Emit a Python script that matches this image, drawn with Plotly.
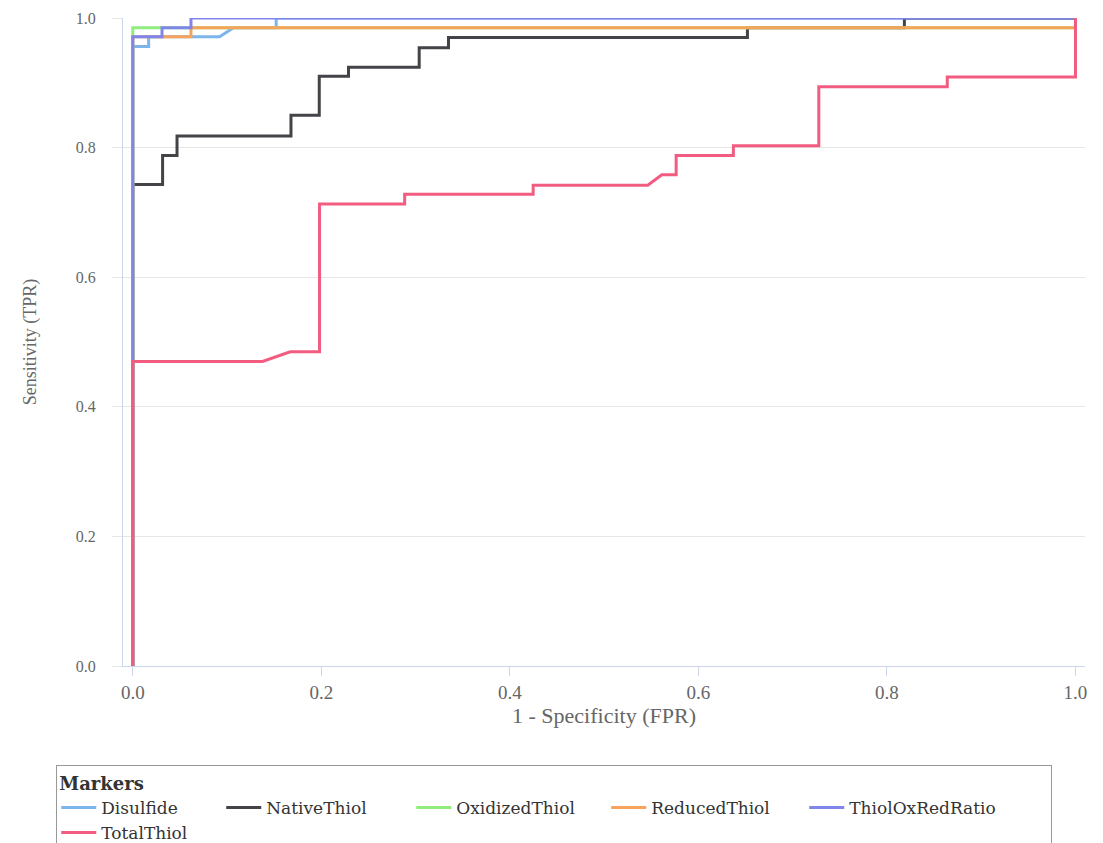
import plotly.graph_objects as go

# ---- data ----
series_names = ["Disulfide", "NativeThiol", "OxidizedThiol", "ReducedThiol", "ThiolOxRedRatio", "TotalThiol"]

disulfide_fpr = [0.0, 0.0, 0.0168, 0.0168, 0.0920, 0.1068, 0.1521, 0.1521, 1.0]
disulfide_tpr = [0.0, 0.956, 0.956, 0.971, 0.971, 0.985, 0.985, 1.0, 1.0]

native_fpr = [0.0, 0.0, 0.0316, 0.0316, 0.0469, 0.0469, 0.1678, 0.1678, 0.1978, 0.1978,
              0.2288, 0.2288, 0.3038, 0.3038, 0.3349, 0.3349, 0.6520, 0.6520, 0.8185, 0.8185, 1.0]
native_tpr = [0.0, 0.743, 0.743, 0.788, 0.788, 0.818, 0.818, 0.850, 0.850, 0.910,
              0.910, 0.924, 0.924, 0.954, 0.954, 0.970, 0.970, 0.985, 0.985, 1.0, 1.0]

oxidized_fpr = [0.0, 0.0, 1.0, 1.0]
oxidized_tpr = [0.0, 0.985, 0.985, 1.0]

reduced_fpr = [0.0, 0.0, 0.0617, 0.0617, 1.0, 1.0]
reduced_tpr = [0.0, 0.971, 0.971, 0.985, 0.985, 1.0]

ratio_fpr = [0.0, 0.0, 0.0310, 0.0310, 0.0617, 0.0617, 1.0]
ratio_tpr = [0.0, 0.971, 0.971, 0.985, 0.985, 1.0, 1.0]

total_fpr = [0.0, 0.0, 0.1376, 0.1670, 0.1981, 0.1981, 0.2884, 0.2884, 0.4247, 0.4247,
             0.5463, 0.5612, 0.5764, 0.5764, 0.6371, 0.6371, 0.7277, 0.7277, 0.8640, 0.8640, 1.0, 1.0]
total_tpr = [0.0, 0.470, 0.470, 0.485, 0.485, 0.713, 0.713, 0.728, 0.728, 0.742,
             0.742, 0.758, 0.758, 0.788, 0.788, 0.803, 0.803, 0.894, 0.894, 0.909, 0.909, 1.0]

x_ticks = [0.0, 0.2, 0.4, 0.6, 0.8, 1.0]
y_ticks = [0.0, 0.2, 0.4, 0.6, 0.8, 1.0]

series_x = [disulfide_fpr, native_fpr, oxidized_fpr, reduced_fpr, ratio_fpr, total_fpr]
series_y = [disulfide_tpr, native_tpr, oxidized_tpr, reduced_tpr, ratio_tpr, total_tpr]

# ---- styling (kept apart from the data) ----
series_colors = ["#7cb5ec", "#434348", "#90ed7d", "#f7a35c", "#8085e9", "#f15c80"]
# legend columns: TotalThiol wraps under Disulfide (column 1)
legend_groups = ["c1", "c2", "c3", "c4", "c5", "c1"]
legend_col_widths = [115, 140, 145, 148, 197, 115]

FONT = "Liberation Serif"
LEGEND_FONT = "DejaVu Serif"

fig = go.Figure()
for name, color, xs, ys, grp, lw in zip(series_names, series_colors, series_x, series_y,
                                         legend_groups, legend_col_widths):
    fig.add_trace(go.Scatter(x=xs, y=ys, mode="lines", name=name,
                             legendgroup=grp, legendwidth=lw,
                             line=dict(color=color, width=3)))

fig.update_layout(
    width=1095, height=835,
    margin=dict(l=115, r=18, t=10, b=177, autoexpand=False),
    paper_bgcolor="white", plot_bgcolor="white",
    font=dict(family=FONT, color="#333333"),
    showlegend=True,
    legend=dict(
        orientation="h",
        x=-0.0694, xanchor="left", y=-0.1535, yanchor="top",
        bordercolor="#999999", borderwidth=1,
        bgcolor="white",
        title=dict(text="<b>Markers</b>", side="top", font=dict(family=LEGEND_FONT, size=18, color="#333333")),
        font=dict(family=LEGEND_FONT, size=17, color="#333333"),
        itemwidth=35,
        traceorder="grouped",
        tracegroupgap=0,
    ),
)

fig.update_xaxes(
    range=[-0.0104, 1.0101],
    tickvals=x_ticks, ticktext=[f"{v:.1f}" for v in x_ticks],
    showgrid=False, zeroline=False,
    showline=True, linecolor="#ccd6eb", linewidth=1,
    ticks="outside", ticklen=9, tickcolor="#ccd6eb", tickwidth=1,
    tickfont=dict(family=FONT, size=19, color="#666666"),
    ticklabeloverflow="allow",
    title=dict(text="1 - Specificity (FPR)", font=dict(family=FONT, size=22, color="#666666"), standoff=5),
    automargin=False,
)
fig.update_yaxes(
    range=[0, 1.0],
    tickvals=y_ticks, ticktext=[f"{v:.1f}" for v in y_ticks],
    showgrid=True, gridcolor="#e6e6e6", gridwidth=1, zeroline=False,
    showline=True, linecolor="#ccd6eb", linewidth=1,
    ticks="outside", ticklen=10, tickcolor="#e6e6e6", tickwidth=1,
    ticklabelstandoff=13,
    ticklabeloverflow="allow",
    tickfont=dict(family=FONT, size=16, color="#666666"),
    title=dict(text="Sensitivity (TPR)", font=dict(family=FONT, size=18, color="#666666"), standoff=34),
    automargin=False,
)

fig.write_html("out.html")
